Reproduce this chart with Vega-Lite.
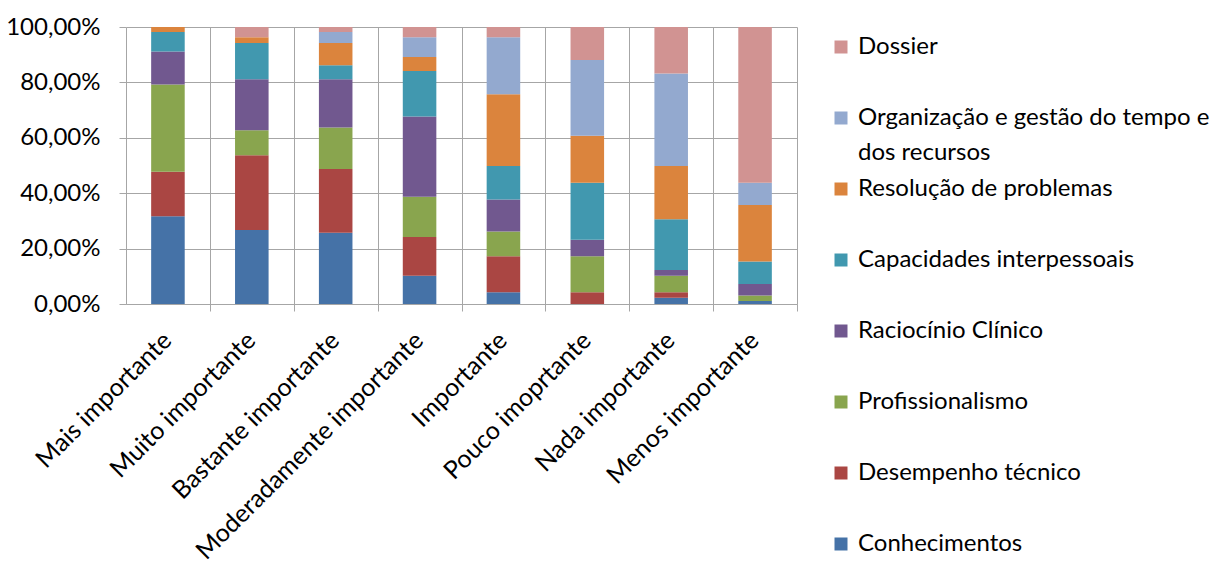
{
  "$schema": "https://vega.github.io/schema/vega-lite/v6.json",
  "width": 671,
  "height": 277,
  "autosize": {"type": "none"},
  "padding": {"left": 126, "top": 27, "right": 435, "bottom": 274},
  "background": "white",
  "config": {
    "font": "Lato",
    "view": {"stroke": null},
    "axis": {"labelColor": "#000000", "labelFontSize": 24, "gridColor": "#a6a6a6", "domainColor": "#a6a6a6", "tickColor": "#a6a6a6", "tickSize": 7, "title": null}
  },
  "data": {
    "values": [
      {"cat": "Mais importante", "comp": "Conhecimentos", "k": 1, "v": 31.7},
      {"cat": "Mais importante", "comp": "Desempenho técnico", "k": 2, "v": 16.0},
      {"cat": "Mais importante", "comp": "Profissionalismo", "k": 3, "v": 31.5},
      {"cat": "Mais importante", "comp": "Raciocínio Clínico", "k": 4, "v": 12.0},
      {"cat": "Mais importante", "comp": "Capacidades interpessoais", "k": 5, "v": 7.0},
      {"cat": "Mais importante", "comp": "Resolução de problemas", "k": 6, "v": 1.8},
      {"cat": "Mais importante", "comp": "Organização e gestão do tempo e dos recursos", "k": 7, "v": 0},
      {"cat": "Mais importante", "comp": "Dossier", "k": 8, "v": 0},
      {"cat": "Muito importante", "comp": "Conhecimentos", "k": 1, "v": 26.7},
      {"cat": "Muito importante", "comp": "Desempenho técnico", "k": 2, "v": 27.0},
      {"cat": "Muito importante", "comp": "Profissionalismo", "k": 3, "v": 9.0},
      {"cat": "Muito importante", "comp": "Raciocínio Clínico", "k": 4, "v": 18.4},
      {"cat": "Muito importante", "comp": "Capacidades interpessoais", "k": 5, "v": 13.1},
      {"cat": "Muito importante", "comp": "Resolução de problemas", "k": 6, "v": 2.1},
      {"cat": "Muito importante", "comp": "Organização e gestão do tempo e dos recursos", "k": 7, "v": 0},
      {"cat": "Muito importante", "comp": "Dossier", "k": 8, "v": 3.7},
      {"cat": "Bastante importante", "comp": "Conhecimentos", "k": 1, "v": 25.7},
      {"cat": "Bastante importante", "comp": "Desempenho técnico", "k": 2, "v": 23.0},
      {"cat": "Bastante importante", "comp": "Profissionalismo", "k": 3, "v": 15.0},
      {"cat": "Bastante importante", "comp": "Raciocínio Clínico", "k": 4, "v": 17.4},
      {"cat": "Bastante importante", "comp": "Capacidades interpessoais", "k": 5, "v": 5.1},
      {"cat": "Bastante importante", "comp": "Resolução de problemas", "k": 6, "v": 8.0},
      {"cat": "Bastante importante", "comp": "Organização e gestão do tempo e dos recursos", "k": 7, "v": 4.0},
      {"cat": "Bastante importante", "comp": "Dossier", "k": 8, "v": 1.8},
      {"cat": "Moderadamente importante", "comp": "Conhecimentos", "k": 1, "v": 10.2},
      {"cat": "Moderadamente importante", "comp": "Desempenho técnico", "k": 2, "v": 14.0},
      {"cat": "Moderadamente importante", "comp": "Profissionalismo", "k": 3, "v": 14.5},
      {"cat": "Moderadamente importante", "comp": "Raciocínio Clínico", "k": 4, "v": 29.0},
      {"cat": "Moderadamente importante", "comp": "Capacidades interpessoais", "k": 5, "v": 16.4},
      {"cat": "Moderadamente importante", "comp": "Resolução de problemas", "k": 6, "v": 5.1},
      {"cat": "Moderadamente importante", "comp": "Organização e gestão do tempo e dos recursos", "k": 7, "v": 7.1},
      {"cat": "Moderadamente importante", "comp": "Dossier", "k": 8, "v": 3.7},
      {"cat": "Importante", "comp": "Conhecimentos", "k": 1, "v": 4.2},
      {"cat": "Importante", "comp": "Desempenho técnico", "k": 2, "v": 13.0},
      {"cat": "Importante", "comp": "Profissionalismo", "k": 3, "v": 9.0},
      {"cat": "Importante", "comp": "Raciocínio Clínico", "k": 4, "v": 11.5},
      {"cat": "Importante", "comp": "Capacidades interpessoais", "k": 5, "v": 12.1},
      {"cat": "Importante", "comp": "Resolução de problemas", "k": 6, "v": 25.9},
      {"cat": "Importante", "comp": "Organização e gestão do tempo e dos recursos", "k": 7, "v": 20.6},
      {"cat": "Importante", "comp": "Dossier", "k": 8, "v": 3.7},
      {"cat": "Pouco imoprtante", "comp": "Conhecimentos", "k": 1, "v": 0},
      {"cat": "Pouco imoprtante", "comp": "Desempenho técnico", "k": 2, "v": 4.2},
      {"cat": "Pouco imoprtante", "comp": "Profissionalismo", "k": 3, "v": 13.0},
      {"cat": "Pouco imoprtante", "comp": "Raciocínio Clínico", "k": 4, "v": 6.0},
      {"cat": "Pouco imoprtante", "comp": "Capacidades interpessoais", "k": 5, "v": 20.6},
      {"cat": "Pouco imoprtante", "comp": "Resolução de problemas", "k": 6, "v": 16.9},
      {"cat": "Pouco imoprtante", "comp": "Organização e gestão do tempo e dos recursos", "k": 7, "v": 27.4},
      {"cat": "Pouco imoprtante", "comp": "Dossier", "k": 8, "v": 11.9},
      {"cat": "Nada importante", "comp": "Conhecimentos", "k": 1, "v": 2.3},
      {"cat": "Nada importante", "comp": "Desempenho técnico", "k": 2, "v": 1.9},
      {"cat": "Nada importante", "comp": "Profissionalismo", "k": 3, "v": 6.0},
      {"cat": "Nada importante", "comp": "Raciocínio Clínico", "k": 4, "v": 2.1},
      {"cat": "Nada importante", "comp": "Capacidades interpessoais", "k": 5, "v": 18.3},
      {"cat": "Nada importante", "comp": "Resolução de problemas", "k": 6, "v": 19.2},
      {"cat": "Nada importante", "comp": "Organização e gestão do tempo e dos recursos", "k": 7, "v": 33.4},
      {"cat": "Nada importante", "comp": "Dossier", "k": 8, "v": 16.8},
      {"cat": "Menos importante", "comp": "Conhecimentos", "k": 1, "v": 1.1},
      {"cat": "Menos importante", "comp": "Desempenho técnico", "k": 2, "v": 0},
      {"cat": "Menos importante", "comp": "Profissionalismo", "k": 3, "v": 2.0},
      {"cat": "Menos importante", "comp": "Raciocínio Clínico", "k": 4, "v": 4.1},
      {"cat": "Menos importante", "comp": "Capacidades interpessoais", "k": 5, "v": 8.1},
      {"cat": "Menos importante", "comp": "Resolução de problemas", "k": 6, "v": 20.4},
      {"cat": "Menos importante", "comp": "Organização e gestão do tempo e dos recursos", "k": 7, "v": 8.1},
      {"cat": "Menos importante", "comp": "Dossier", "k": 8, "v": 56.2}
    ]
  },
  "mark": {"type": "bar"},
  "encoding": {
    "x": {
      "field": "cat",
      "type": "nominal",
      "sort": ["Mais importante", "Muito importante", "Bastante importante", "Moderadamente importante", "Importante", "Pouco imoprtante", "Nada importante", "Menos importante"],
      "scale": {"paddingInner": 0.6, "paddingOuter": 0.3},
      "axis": {
        "grid": true,
        "tickOffset": 42,
        "labelOffset": -43,
        "labelAngle": -45,
        "labelAlign": "right",
        "labelBaseline": "middle",
        "labelPadding": 25,
        "labelFontSize": 25,
        "labelLimit": 400,
        "labelOverlap": false
      }
    },
    "y": {
      "field": "v",
      "type": "quantitative",
      "stack": "zero",
      "scale": {"domain": [0, 100], "nice": false},
      "axis": {
        "grid": true,
        "values": [0, 20, 40, 60, 80, 100],
        "labelPadding": 19,
        "labelExpr": "replace(format(datum.value, '.2f'), '.', ',') + '%'"
      }
    },
    "color": {
      "field": "comp",
      "type": "nominal",
      "scale": {
        "domain": ["Dossier", "Organização e gestão do tempo e dos recursos", "Resolução de problemas", "Capacidades interpessoais", "Raciocínio Clínico", "Profissionalismo", "Desempenho técnico", "Conhecimentos"],
        "range": ["#d19392", "#93a9cf", "#db843d", "#4198af", "#71588f", "#89a54e", "#aa4643", "#4572a7"]
      },
      "legend": {
        "title": null,
        "orient": "none",
        "legendX": 703,
        "legendY": 8,
        "padding": 0,
        "symbolType": "square",
        "symbolSize": 169,
        "symbolStrokeWidth": 0,
        "labelFontSize": 24,
        "labelColor": "#000000",
        "labelOffset": 5,
        "labelLimit": 500,
        "rowPadding": 12,
        "gridAlign": "all",
        "labelBaseline": "middle",
        "labelExpr": "datum.label == 'Organização e gestão do tempo e dos recursos' ? ['Organização e gestão do tempo e', 'dos recursos'] : datum.label",
        "encode": {"labels": {"update": {"lineHeight": {"value": 35}}}}
      }
    },
    "order": {"field": "k", "type": "quantitative"}
  }
}
